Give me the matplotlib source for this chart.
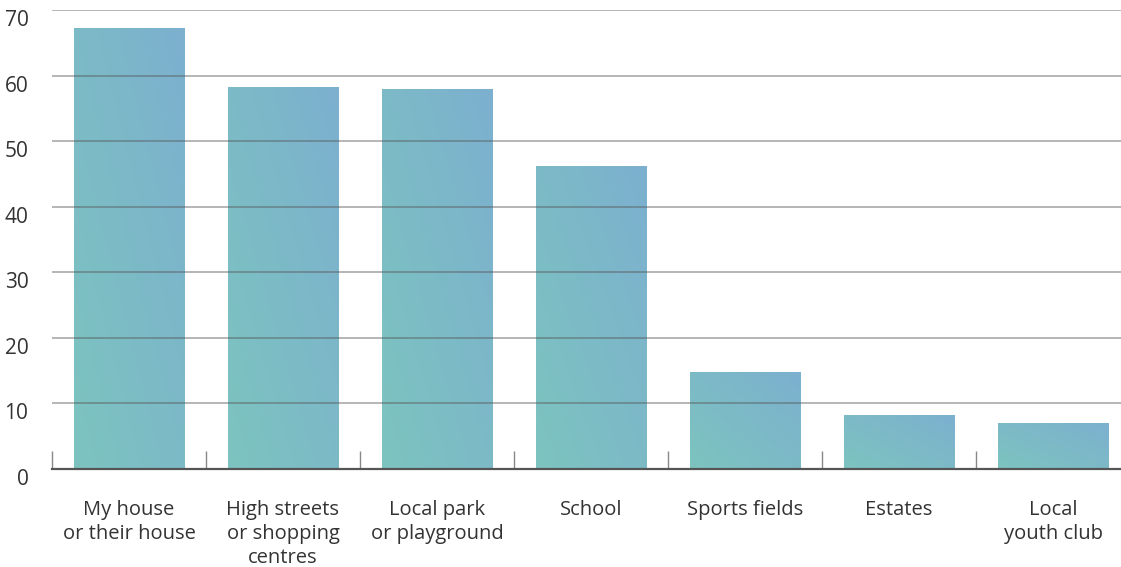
import numpy as np
import matplotlib.pyplot as plt
import matplotlib.transforms as mtransforms
from matplotlib.colors import LinearSegmentedColormap

plt.rcParams['font.family'] = ['Open Sans', 'DejaVu Sans']

places = ["My house\nor their house", "High streets\nor shopping\ncentres",
          "Local park\nor playground", "School", "Sports fields", "Estates",
          "Local\nyouth club"]
percent = [67.2, 58.2, 58.0, 46.2, 14.8, 8.2, 7.0]
yticks = [0, 10, 20, 30, 40, 50, 60, 70]

fig = plt.figure(figsize=(11.21, 5.67), dpi=100)
ax = fig.add_axes([52/1121, 98/567, (1130-52)/1121, (469-10)/567])
ax.set_xlim(0, 7)
ax.set_ylim(0, 70)

# diagonal teal -> blue fill for each bar
cmap = LinearSegmentedColormap.from_list("tealblue", ["#7cc4bf", "#7db0cf"])
gx, gy = np.meshgrid(np.linspace(0, 1, 64), np.linspace(0, 1, 64))
grad = (gx + gy) / 2

x = np.arange(len(places)) + 0.5
bars = ax.bar(x, percent, width=0.72, color="none", edgecolor="none", zorder=1)
for b in bars:
    x0, y0 = b.get_x(), b.get_y()
    im = ax.imshow(grad, cmap=cmap, origin="lower", aspect="auto",
                   extent=(x0, x0 + b.get_width(), y0, y0 + b.get_height()),
                   zorder=1)
    im.set_clip_path(b)
ax.set_xlim(0, 7)
ax.set_ylim(0, 70)

# grid lines sit on top of the bars
for v in yticks[1:]:
    ax.axhline(v, color="#555555", lw=1.1, alpha=0.55, zorder=3)

for s in ["top", "right", "left"]:
    ax.spines[s].set_visible(False)
ax.spines["bottom"].set_color("#555555")
ax.spines["bottom"].set_linewidth(1.6)
ax.spines["bottom"].set_zorder(4)

# category separators on the baseline
ax.set_xticks(np.arange(len(places)))
ax.set_xticklabels([])
ax.tick_params(axis="x", direction="in", length=13, width=1.0, color="#888888")
ax.set_xticks(x, minor=True)
ax.set_xticklabels(places, minor=True, fontsize=14.5, color="#333333",
                   linespacing=1.28, va="top")
ax.tick_params(axis="x", which="minor", length=0, pad=22)

ax.set_yticks(yticks)
ax.set_yticklabels([str(v) for v in yticks], fontsize=15, color="#333333")
ax.tick_params(axis="y", length=0, pad=17)
off = mtransforms.ScaledTranslation(0, -8/100, fig.dpi_scale_trans)
for lab in ax.get_yticklabels():
    lab.set_transform(lab.get_transform() + off)

fig.savefig("out.png", dpi=100)
